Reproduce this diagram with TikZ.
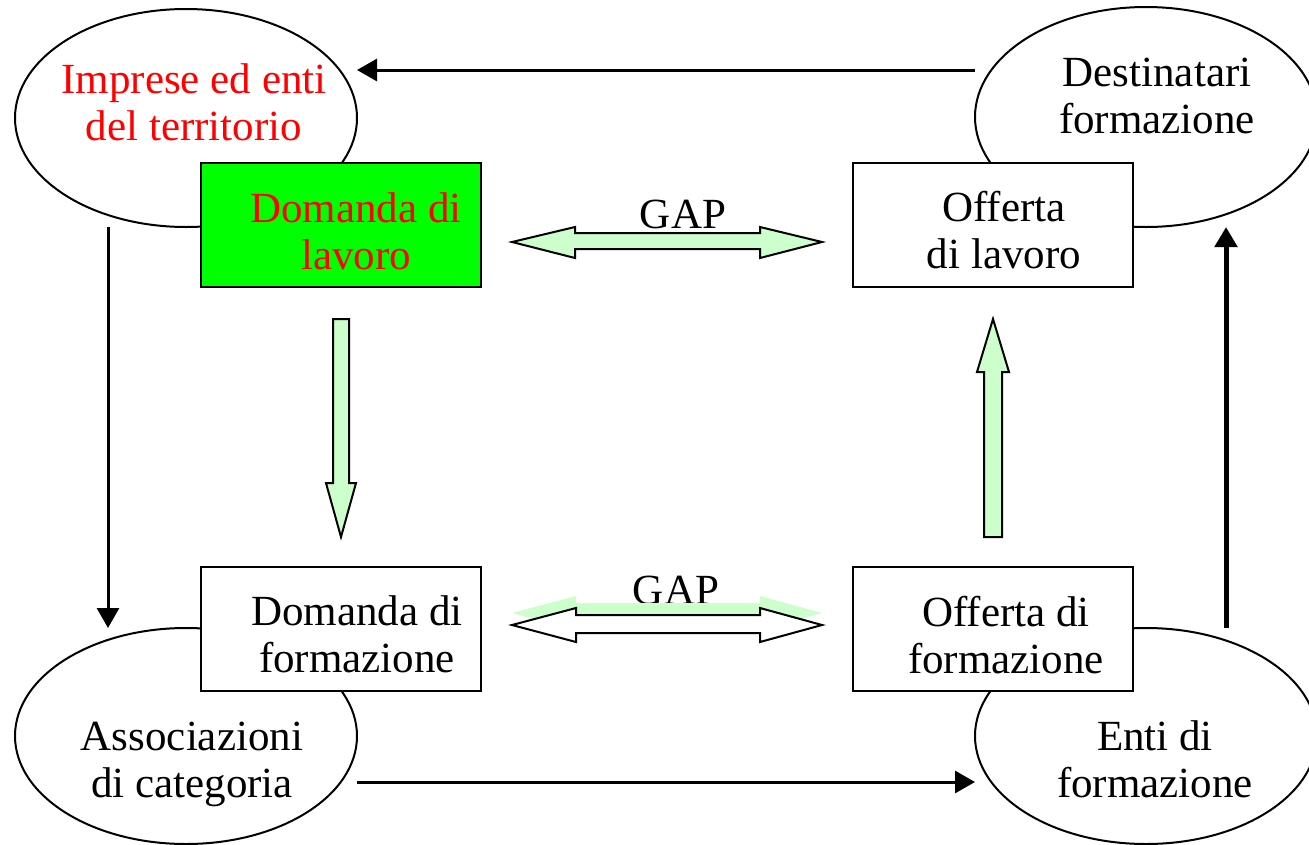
\documentclass[tikz,border=0pt]{standalone}
\usepackage{fontspec}
\setmainfont{Liberation Serif}
\usetikzlibrary{shapes.geometric,arrows.meta}
\definecolor{verde}{RGB}{0,255,0}
\definecolor{verdino}{RGB}{204,255,204}
\definecolor{rosso}{RGB}{255,0,0}
\begin{document}
\begin{tikzpicture}[x=1pt,y=-1pt,
    ente/.style={draw,ellipse,line width=2pt,minimum width=342pt,minimum height=218pt,inner sep=0pt,outer sep=0pt},
    casella/.style={draw,rectangle,fill=white,line width=2.5pt,minimum width=280pt,minimum height=124pt,inner sep=0pt},
    testo/.style={anchor=base,align=center,font=\fontsize{43}{47}\selectfont,inner sep=0pt},
    freccia/.style={line width=3pt,-{Triangle[length=20pt,width=22pt]}},
    blocco/.style={draw,fill=verdino,line width=2pt,line join=miter}]
    \useasboundingbox (0,0) rectangle (1309,844);
    % gli enti
    \node[ente] (imprese) at (186,118) {};
    \node[ente,minimum height=220pt] (destinatari) at (1146,117) {};
    \node[ente,minimum height=216pt] (associazioni) at (186,736) {};
    \node[ente,minimum height=216pt] (enti) at (1146,736) {};
    % domanda e offerta
    \node[casella,fill=verde] (domlav) at (341,225) {};
    \node[casella] (offlav) at (993,225) {};
    \node[casella] (domform) at (341,629) {};
    \node[casella] (offform) at (993,629) {};
    % testi (base = ultima riga)
    \node[testo,text=rosso] (timprese) at (194,140) {Imprese ed enti\\del territorio};
    \node[testo] (tdestinatari) at (1157,133) {Destinatari\\formazione};
    \node[testo] (tassociazioni) at (192,797) {Associazioni\\di categoria};
    \node[testo] (tenti) at (1155,797) {Enti di\\formazione};
    \node[testo,text=rosso] (tdomlav) at (356,269) {Domanda di\\lavoro};
    \node[testo] (tofflav) at (1004,268) {Offerta\\di lavoro};
    \node[testo] (tdomform) at (357,672) {Domanda di\\formazione};
    \node[testo] (toffform) at (1006,673) {Offerta di\\formazione};
    \node[testo] (gapsu) at (683,228) {GAP};
    \node[testo] (gapgiu) at (676,604) {GAP};
    % frecce larghe
    \draw[blocco] (512,242) -- (575,227) -- (575,233) -- (760,233) -- (760,227) -- (822,242)
        -- (760,258) -- (760,249) -- (575,249) -- (575,258) -- cycle;
    \fill[verdino] (512,613) -- (576,596) -- (576,603) -- (760,603) -- (760,596) -- (822,613)
        -- (760,630) -- (760,621) -- (576,621) -- (576,630) -- cycle;
    \draw[blocco,fill=white] (512,625) -- (576,608) -- (576,615) -- (760,615) -- (760,608) -- (822,625)
        -- (760,642) -- (760,633) -- (576,633) -- (576,642) -- cycle;
    \draw[blocco] (333,319) -- (349,319) -- (349,483) -- (356,483) -- (341,537) -- (326,483) -- (333,483) -- cycle;
    \draw[blocco] (984,537) -- (1002,537) -- (1002,372) -- (1009,372) -- (993,319) -- (977,372) -- (984,372) -- cycle;
    % collegamenti
    \draw[freccia] (destinatari.west |- 0,70) -- (imprese.east |- 0,70);
    \draw[freccia] (imprese.south -| 108,0) -- (associazioni.north -| 108,0);
    \draw[freccia] (associazioni.east |- 0,782) -- (enti.west |- 0,782);
    \draw[freccia,line width=5pt] (enti.north -| 1226,0) -- (destinatari.south -| 1226,0);
\end{tikzpicture}
\end{document}
